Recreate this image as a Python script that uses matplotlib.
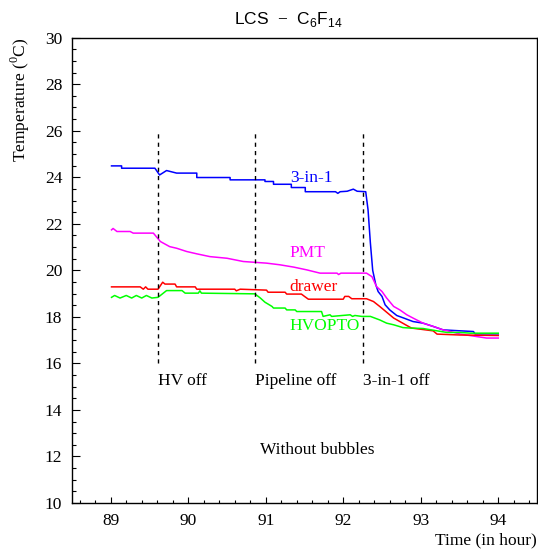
import matplotlib
matplotlib.use("Agg")
import matplotlib.pyplot as plt
from matplotlib.ticker import MultipleLocator

# time (hours) and temperature (deg C)
t_3in1 = [89.01, 89.14, 89.14, 89.57, 89.63, 89.72, 89.85, 90.11, 90.11, 90.54, 90.54,
          90.99, 90.99, 91.10, 91.10, 91.33, 91.33, 91.51, 91.51, 91.90, 91.93, 91.96,
          92.05, 92.13, 92.18, 92.29, 92.32, 92.35, 92.38, 92.42, 92.45, 92.50, 92.54,
          92.60, 92.69, 92.78, 92.90, 93.03, 93.16, 93.29, 93.68, 93.70, 94.00]
T_3in1 = [24.49, 24.49, 24.39, 24.39, 24.10, 24.29, 24.18, 24.18, 23.99, 23.99, 23.89,
          23.89, 23.82, 23.82, 23.70, 23.70, 23.56, 23.56, 23.38, 23.38, 23.31, 23.38,
          23.40, 23.49, 23.40, 23.38, 22.60, 21.18, 20.00, 19.38, 19.09, 18.88, 18.52,
          18.30, 18.06, 17.95, 17.80, 17.73, 17.59, 17.44, 17.37, 17.27, 17.27]

t_pmt = [89.01, 89.03, 89.08, 89.25, 89.29, 89.55, 89.64, 89.76, 89.85, 89.98, 90.11,
         90.28, 90.50, 90.71, 91.01, 91.18, 91.36, 91.53, 91.70, 91.92, 91.94, 91.97,
         92.30, 92.37, 92.43, 92.50, 92.56, 92.65, 92.73, 92.82, 92.90, 93.03, 93.16,
         93.29, 93.42, 93.51, 93.85, 94.00]
T_pmt = [21.74, 21.80, 21.67, 21.67, 21.60, 21.60, 21.24, 21.02, 20.95, 20.81, 20.71,
         20.59, 20.52, 20.38, 20.31, 20.24, 20.14, 20.02, 19.88, 19.88, 19.82, 19.88,
         19.88, 19.73, 19.30, 19.09, 18.81, 18.45, 18.30, 18.09, 17.95, 17.73, 17.59,
         17.44, 17.34, 17.26, 17.09, 17.09]

t_drawer = [89.01, 89.38, 89.42, 89.45, 89.48, 89.61, 89.67, 89.70, 89.83, 89.85, 90.09,
            90.11, 90.60, 90.62, 90.67, 91.01, 91.03, 91.25, 91.27, 91.46, 91.50, 91.55,
            92.00, 92.02, 92.07, 92.11, 92.30, 92.39, 92.47, 92.56, 92.65, 92.73, 92.82,
            92.88, 93.16, 93.21, 93.51, 94.00]
T_drawer = [19.29, 19.29, 19.19, 19.29, 19.19, 19.19, 19.49, 19.41, 19.41, 19.29, 19.29,
            19.19, 19.19, 19.12, 19.19, 19.15, 19.06, 19.06, 18.98, 18.98, 18.88, 18.76,
            18.76, 18.88, 18.88, 18.78, 18.78, 18.66, 18.45, 18.20, 17.95, 17.80, 17.63,
            17.52, 17.40, 17.26, 17.22, 17.20]

t_hvopto = [89.01, 89.05, 89.12, 89.20, 89.27, 89.33, 89.40, 89.46, 89.53, 89.61, 89.72,
            89.92, 89.96, 90.13, 90.15, 90.17, 90.86, 90.93, 90.99, 91.08, 91.10, 91.25,
            91.27, 91.38, 91.40, 91.72, 91.74, 91.83, 91.85, 92.09, 92.12, 92.15, 92.24,
            92.35, 92.39, 92.47, 92.56, 92.65, 92.77, 92.86, 93.03, 93.21, 93.34, 93.51,
            93.64, 94.00]
T_hvopto = [18.84, 18.92, 18.81, 18.92, 18.81, 18.92, 18.81, 18.92, 18.81, 18.84, 19.13,
            19.13, 19.02, 19.02, 19.12, 19.02, 18.99, 18.81, 18.63, 18.45, 18.38, 18.38,
            18.30, 18.30, 18.23, 18.23, 18.02, 18.09, 18.02, 18.09, 18.02, 18.06, 18.02,
            18.02, 17.97, 17.87, 17.73, 17.66, 17.54, 17.52, 17.50, 17.40, 17.33, 17.33,
            17.30, 17.30]

events = [89.61, 90.86, 92.255]
event_labels = ["HV off", "Pipeline off", "3-in-1 off"]

serif = "Liberation Serif"
fs = 12.5

plt.rcParams["mathtext.fontset"] = "custom"
plt.rcParams["mathtext.rm"] = "Liberation Serif"
plt.rcParams["mathtext.sf"] = "Liberation Sans"

fig = plt.figure(figsize=(5.38, 5.51), dpi=100)
ax = fig.add_axes([72/538, 1-503/551, 465/538, 465.3/551])

ax.plot(t_3in1, T_3in1, color="#0000ff", lw=1.1)
ax.plot(t_pmt, T_pmt, color="#ff00ff", lw=1.1)
ax.plot(t_drawer, T_drawer, color="#ff0000", lw=1.1)
ax.plot(t_hvopto, T_hvopto, color="#00ff00", lw=1.1)

for x, lab in zip(events, event_labels):
    ax.plot([x, x], [16, 26], color="black", lw=1.0, ls=(0, (3, 3)))
    ax.text(x, 15.25, lab, ha="left", va="center", fontsize=fs, family=serif)

ax.text(91.31, 23.96, "3-in-1", color="#0000ff", ha="left", va="center", fontsize=fs, family=serif)
ax.text(91.31, 20.74, "PMT", color="#ff00ff", ha="left", va="center", fontsize=fs, family=serif)
ax.text(91.31, 19.30, "drawer", color="#ff0000", ha="left", va="center", fontsize=fs, family=serif)
ax.text(91.31, 17.59, "HVOPTO", color="#00ff00", ha="left", va="center", fontsize=fs, family=serif)
ax.text(91.67, 12.29, "Without bubbles", ha="center", va="center", fontsize=fs, family=serif)

ax.set_xlim(88.5, 94.5)
ax.set_ylim(10, 30)
ax.xaxis.set_major_locator(MultipleLocator(1))
ax.xaxis.set_minor_locator(MultipleLocator(0.2))
ax.yaxis.set_major_locator(MultipleLocator(2))
ax.yaxis.set_minor_locator(MultipleLocator(0.5))
ax.tick_params(axis="x", which="major", direction="in", length=4.5, width=0.8, pad=7)
ax.tick_params(axis="x", which="minor", direction="in", length=2.5, width=0.8)
ax.tick_params(axis="y", which="major", direction="in", length=6, width=0.8, pad=7)
ax.tick_params(axis="y", which="minor", direction="in", length=3, width=0.8)
for lab in ax.get_xticklabels() + ax.get_yticklabels():
    lab.set_family(serif)
    lab.set_fontsize(fs)
for s in ax.spines.values():
    s.set_linewidth(1.0)

fig.text(288/538, 1-24/551, r"LCS  $-$  C$_\mathsf{6}$F$_\mathsf{14}$", ha="center", va="baseline",
         fontsize=12.5, family="Liberation Sans", fontweight="light")
fig.text(20/538, 1-38/551, r"Temperature ($^\mathrm{0}$C)", rotation=90, ha="center", va="top",
         fontsize=fs, family=serif)
fig.text(537/538, 1-540/551, "Time (in hour)", ha="right", va="center",
         fontsize=fs, family=serif)

fig.savefig("out.png", dpi=100)
